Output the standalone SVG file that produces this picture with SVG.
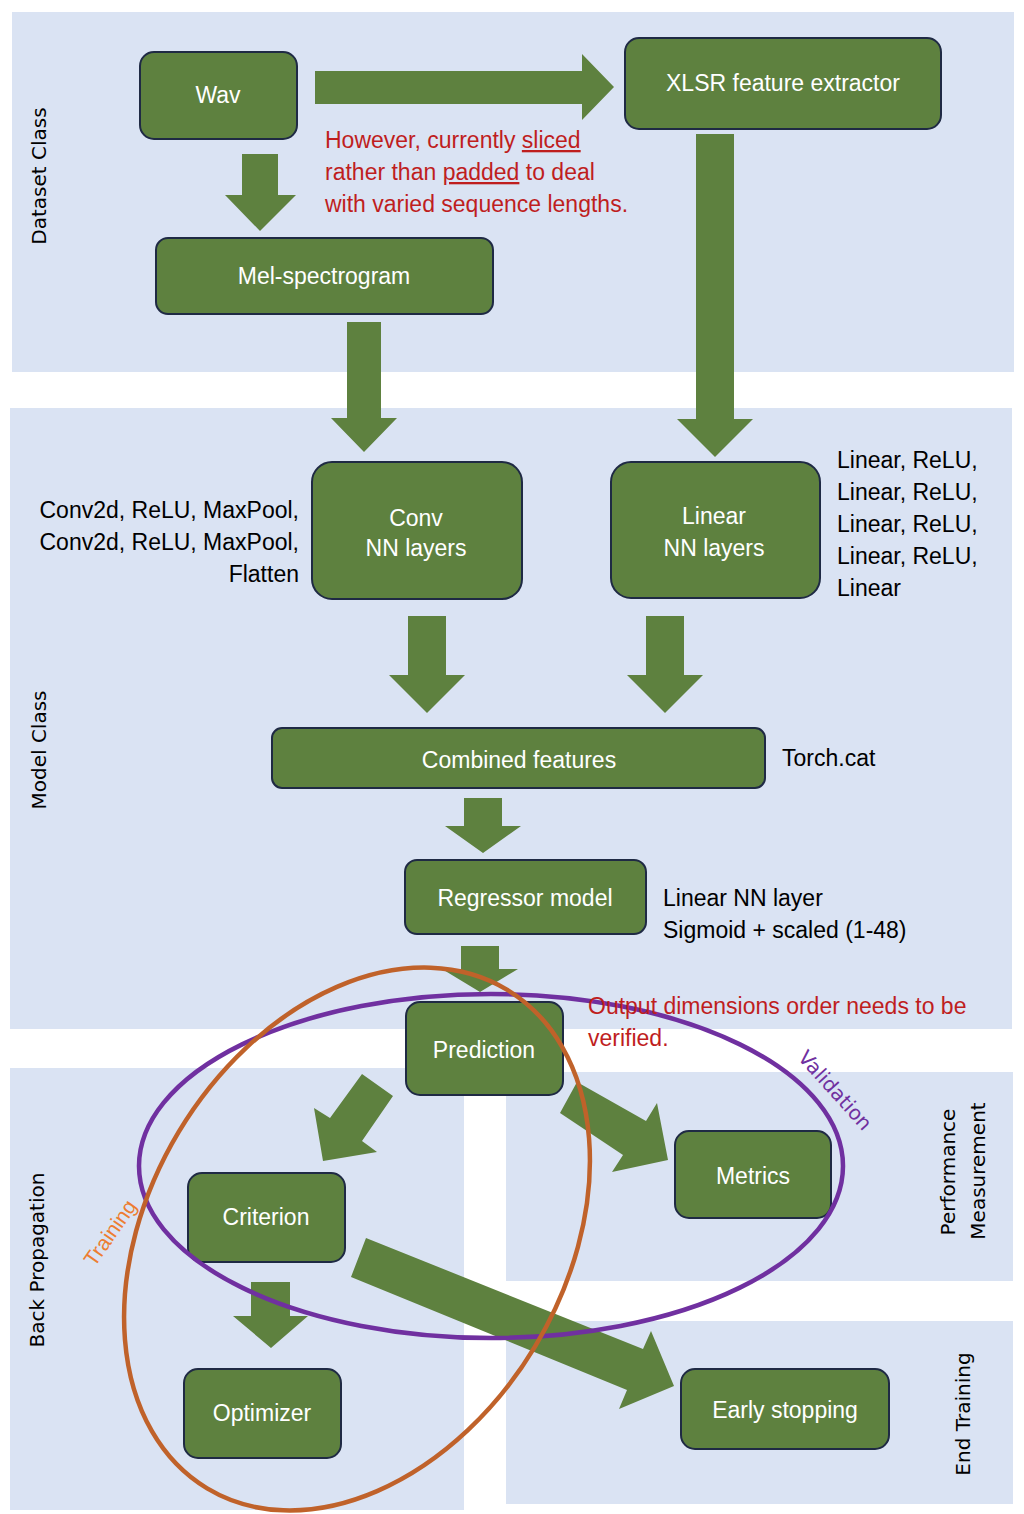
<svg xmlns="http://www.w3.org/2000/svg" width="1024" height="1514" viewBox="0 0 1024 1514">
<style>
.panel{fill:#DAE3F3}
.side{font-family:"DejaVu Sans",sans-serif;font-size:20px;fill:#000;text-anchor:middle}
.box{fill:#5E813F;stroke:#1F2A44;stroke-width:2}
.lbl{font-family:"Liberation Sans",Arial,sans-serif;font-size:23px;fill:#fff;text-anchor:middle}
.note{font-family:"Liberation Sans",Arial,sans-serif;font-size:23px;fill:#000}
.red{font-family:"Liberation Sans",Arial,sans-serif;font-size:23px;fill:#BF1E1E}
.arrow{fill:#5E813F}
</style>
<rect width="1024" height="1514" fill="#fff"/>
<g id="panels">
<rect class="panel" x="12" y="12" width="1002" height="360"/>
<rect class="panel" x="10" y="408" width="1002" height="621"/>
<rect class="panel" x="10" y="1068" width="454" height="442"/>
<rect class="panel" x="506" y="1072" width="507" height="209"/>
<rect class="panel" x="506" y="1321" width="507" height="183"/>
</g>
<g id="panel-labels">
<text class="side" transform="translate(46,176) rotate(-90)">Dataset Class</text>
<text class="side" transform="translate(46,750) rotate(-90)">Model Class</text>
<text class="side" transform="translate(44,1260) rotate(-90)">Back Propagation</text>
<text class="side" transform="translate(955,1172) rotate(-90)">Performance</text>
<text class="side" transform="translate(985,1171) rotate(-90)">Measurement</text>
<text class="side" transform="translate(970,1414) rotate(-90)">End Training</text>
</g>
<g id="connectors">
<polygon class="arrow" points="315,71 582,71 582,54 614,87 582,120 582,104 315,104"/>
<polygon class="arrow" points="242,154 278,154 278,195 296,195 260,231 225,195 242,195"/>
<polygon class="arrow" points="347,322 381,322 381,418 397,418 364,452 331,418 347,418"/>
<polygon class="arrow" points="696,134 734,134 734,419 753,419 715,457 677,419 696,419"/>
<polygon class="arrow" points="408,616 446,616 446,675 465,675 427,713 389,675 408,675"/>
<polygon class="arrow" points="646,616 684,616 684,675 703,675 665,713 627,675 646,675"/>
<polygon class="arrow" points="464,798 502,798 502,826 521,826 483,853 445,826 464,826"/>
<polygon class="arrow" points="461,946 499,946 499,969 518,969 480,992 442,969 461,969"/>
<polygon class="arrow" points="251,1282 290,1282 290,1316 308,1316 271,1348 233,1316 251,1316"/>
<polygon class="arrow" points="362,1074 393,1096 362,1141 377,1152 323,1161 314,1108 330,1118"/>
<polygon class="arrow" points="577,1082 646,1121 657,1103 668,1160 612,1172 623,1155 560,1113"/>
<polygon class="arrow" points="366,1238 643,1349 651,1331 674,1386 619,1409 627,1390 351,1277"/>
</g>
<g id="node-wav"><rect class="box" x="140" y="52" width="157" height="87" rx="14"/><text class="lbl" x="218" y="103">Wav</text></g>
<g id="node-xlsr"><rect class="box" x="625" y="38" width="316" height="91" rx="14"/><text class="lbl" x="783" y="91">XLSR feature extractor</text></g>
<g id="node-mel"><rect class="box" x="156" y="238" width="337" height="76" rx="12"/><text class="lbl" x="324" y="284">Mel-spectrogram</text></g>
<g id="node-conv"><rect class="box" x="312" y="462" width="210" height="137" rx="20"/><text class="lbl" x="416" y="526">Conv</text><text class="lbl" x="416" y="556">NN layers</text></g>
<g id="node-linear"><rect class="box" x="611" y="462" width="209" height="136" rx="20"/><text class="lbl" x="714" y="524">Linear</text><text class="lbl" x="714" y="556">NN layers</text></g>
<g id="node-combined"><rect class="box" x="272" y="728" width="493" height="60" rx="10"/><text class="lbl" x="519" y="768">Combined features</text></g>
<g id="node-regressor"><rect class="box" x="405" y="860" width="241" height="74" rx="12"/><text class="lbl" x="525" y="906">Regressor model</text></g>
<g id="node-prediction"><rect class="box" x="406" y="1002" width="157" height="93" rx="14"/><text class="lbl" x="484" y="1058">Prediction</text></g>
<g id="node-criterion"><rect class="box" x="188" y="1173" width="157" height="89" rx="14"/><text class="lbl" x="266" y="1225">Criterion</text></g>
<g id="node-metrics"><rect class="box" x="675" y="1131" width="156" height="87" rx="14"/><text class="lbl" x="753" y="1184">Metrics</text></g>
<g id="node-optimizer"><rect class="box" x="184" y="1369" width="157" height="89" rx="14"/><text class="lbl" x="262" y="1421">Optimizer</text></g>
<g id="node-early"><rect class="box" x="681" y="1369" width="208" height="80" rx="14"/><text class="lbl" x="785" y="1418">Early stopping</text></g>
<g id="groupings">
<ellipse cx="491" cy="1166" rx="352" ry="172" fill="none" stroke="#7030A0" stroke-width="4.5"/>
<ellipse cx="357" cy="1239" rx="208" ry="291" fill="none" stroke="#C0622A" stroke-width="4.5" transform="rotate(31 357 1239)"/>
<text transform="translate(830,1095) rotate(48)" style="font-family:'DejaVu Sans',sans-serif;font-size:20px;fill:#7030A0;text-anchor:middle">Validation</text>
<text transform="translate(116,1237) rotate(-55)" style="font-family:'Liberation Sans',Arial,sans-serif;font-size:21px;fill:#ED7D31;text-anchor:middle">Training</text>
</g>
<g id="annotations">
<text class="red" x="325" y="148">However, currently <tspan text-decoration="underline">sliced</tspan></text>
<text class="red" x="325" y="180">rather than <tspan text-decoration="underline">padded</tspan> to deal</text>
<text class="red" x="325" y="212">with varied sequence lengths.</text>
<text class="note" x="299" y="518" text-anchor="end">Conv2d, ReLU, MaxPool,</text>
<text class="note" x="299" y="550" text-anchor="end">Conv2d, ReLU, MaxPool,</text>
<text class="note" x="299" y="582" text-anchor="end">Flatten</text>
<text class="note" x="837" y="468">Linear, ReLU,</text>
<text class="note" x="837" y="500">Linear, ReLU,</text>
<text class="note" x="837" y="532">Linear, ReLU,</text>
<text class="note" x="837" y="564">Linear, ReLU,</text>
<text class="note" x="837" y="596">Linear</text>
<text class="note" x="782" y="766">Torch.cat</text>
<text class="note" x="663" y="906">Linear NN layer</text>
<text class="note" x="663" y="938">Sigmoid + scaled (1-48)</text>
<text class="red" x="588" y="1014">Output dimensions order needs to be</text>
<text class="red" x="588" y="1046">verified.</text>
</g>
</svg>
